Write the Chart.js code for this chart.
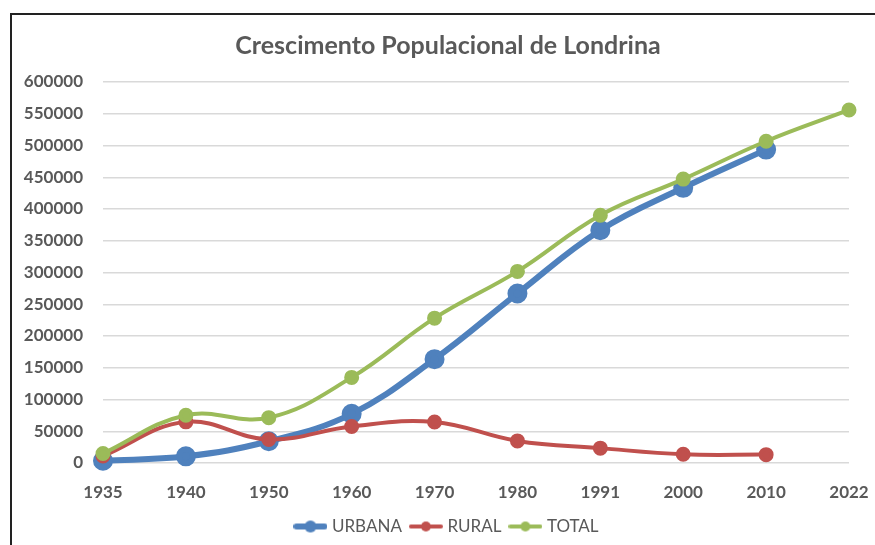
<!DOCTYPE html>
<html>
<head>
<meta charset="utf-8">
<script src="https://cdn.jsdelivr.net/npm/chart.js@4.4.0/dist/chart.umd.min.js"></script>
<style>
  html, body { margin: 0; padding: 0; width: 875px; height: 545px; overflow: hidden; background: #fff; }
  #frame { position: absolute; left: 10px; top: 13px; width: 900px; height: 600px;
           border-left: 2px solid #222; border-top: 2px solid #222; }
  #box { position: absolute; left: 0px; top: 15px; width: 896px; height: 530px; }
</style>
</head>
<body>
<div id="frame"></div>
<div id="box"><canvas id="myChart"></canvas></div>
<script>
// census years (x categories)
var anos = ['1935', '1940', '1950', '1960', '1970', '1980', '1991', '2000', '2010', '2022'];
// population
var urbana = [3500, 10531, 34230, 77382, 163528, 266940, 366676, 433369, 493520, null];
var rural  = [11000, 64765, 37182, 57439, 64573, 34771, 23424, 13696, 13181, null];
var total  = [15000, 75296, 71412, 134821, 228101, 301711, 390100, 447065, 506701, 555965];

var cinza = '#595959';
var fonte = 'Lato, "Open Sans", sans-serif';

// little line + dot icon, like the excel legend
function legendIcon(cor, lw, r) {
  var c = document.createElement('canvas');
  c.width = 34; c.height = 14;
  var g = c.getContext('2d');
  g.strokeStyle = cor;
  g.lineWidth = lw;
  g.lineCap = 'round';
  g.beginPath();
  g.moveTo(lw / 2, 7);
  g.lineTo(34 - lw / 2, 7);
  g.stroke();
  g.fillStyle = cor;
  g.beginPath();
  g.arc(17, 7, r, 0, Math.PI * 2);
  g.fill();
  return c;
}

var ctx = document.getElementById('myChart').getContext('2d');
var chart = new Chart(ctx, {
    type: 'line',
    data: {
        labels: anos,
        datasets: [{
            label: 'URBANA',
            data: urbana,
            borderColor: '#4F81BD',
            backgroundColor: '#4F81BD',
            borderWidth: 6,
            pointRadius: 7,
            pointHoverRadius: 7,
            tension: 0.4,
            order: 2,
            clip: 12,
            icon: legendIcon('#4F81BD', 6, 6)
        }, {
            label: 'RURAL',
            data: rural,
            borderColor: '#C0504D',
            backgroundColor: '#C0504D',
            borderWidth: 4,
            pointRadius: 5.5,
            pointHoverRadius: 5.5,
            tension: 0.4,
            order: 1,
            clip: 12,
            icon: legendIcon('#C0504D', 4, 5)
        }, {
            label: 'TOTAL',
            data: total,
            borderColor: '#9BBB59',
            backgroundColor: '#9BBB59',
            borderWidth: 4,
            pointRadius: 5.5,
            pointHoverRadius: 5.5,
            tension: 0.4,
            order: 0,
            clip: 12,
            icon: legendIcon('#9BBB59', 4, 5)
        }]
    },
    options: {
        responsive: true,
        maintainAspectRatio: false,
        animation: false,
        spanGaps: false,
        layout: { padding: 0 },
        plugins: {
            title: {
                display: true,
                text: 'Crescimento Populacional de Londrina',
                color: cinza,
                font: { family: fonte, size: 25, weight: 'bold' },
                padding: { top: 16, bottom: 21 }
            },
            legend: {
                position: 'bottom',
                labels: {
                    color: cinza,
                    font: { family: fonte, size: 17 },
                    usePointStyle: true,
                    pointStyleWidth: 26,
                    padding: 11,
                    generateLabels: function (ch) {
                        return ch.data.datasets.map(function (ds, i) {
                            return {
                                text: ds.label,
                                fillStyle: ds.borderColor,
                                strokeStyle: ds.borderColor,
                                lineWidth: 0,
                                pointStyle: ds.icon,
                                fontColor: cinza,
                                hidden: false,
                                datasetIndex: i
                            };
                        });
                    }
                }
            },
            tooltip: { enabled: false }
        },
        scales: {
            x: {
                offset: false,
                grid: { display: false, drawTicks: false },
                border: { display: false },
                ticks: { color: cinza, font: { family: fonte, size: 17, weight: 'bold' }, padding: 19, maxRotation: 0 },
                afterFit: function (s) { s.height = 44; }
            },
            y: {
                min: 0,
                max: 600000,
                grid: { color: '#d9d9d9', lineWidth: 1.5, drawTicks: false },
                border: { display: false },
                ticks: {
                    stepSize: 50000,
                    color: cinza,
                    font: { family: fonte, size: 17, weight: 'bold' },
                    padding: 20,
                    callback: function (v) { return String(v); }
                },
                afterFit: function (s) { s.width = 103; }
            },
            // empty right axis, only keeps the space on the right side
            y2: {
                position: 'right',
                display: true,
                grid: { display: false, drawTicks: false },
                border: { display: false },
                ticks: { display: false },
                afterFit: function (s) { s.width = 47; }
            }
        }
    }
});
</script>
</body>
</html>
